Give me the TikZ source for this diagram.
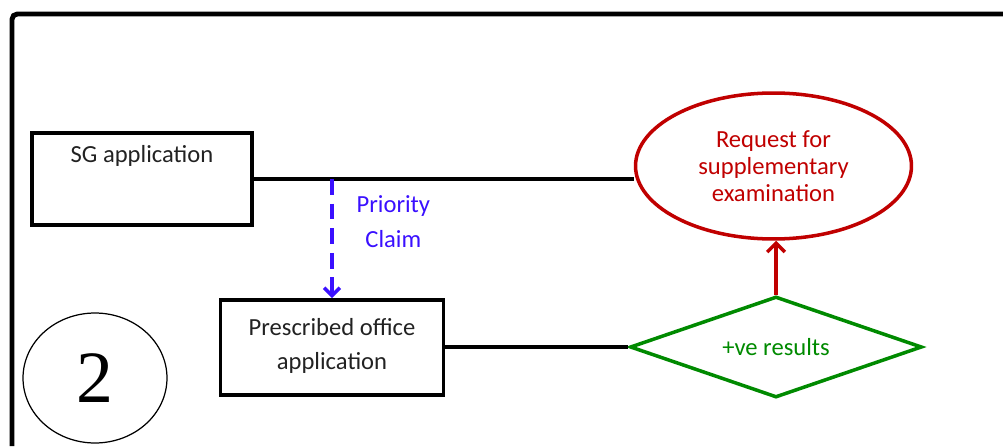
\documentclass[tikz,border=0pt]{standalone}
\usepackage{fontspec}
\setmainfont{Carlito}
\newfontfamily\numfont{Liberation Serif}
\usepackage{tikz}
\usetikzlibrary{shapes.geometric,arrows.meta}
\definecolor{myred}{HTML}{C00000}
\definecolor{mygreen}{HTML}{008A00}
\definecolor{myblue}{HTML}{3A10FF}
\definecolor{mytext}{HTML}{222222}
\tikzstyle{block} = [rectangle, draw, line width=2.2pt, align=center, text=mytext, minimum width = 4.4cm, minimum height=1.84cm]
\tikzstyle{request} = [ellipse, draw=myred, text=myred, line width=2pt, align=center, inner sep=0pt, minimum width=5.52cm, minimum height=2.92cm]
\tikzstyle{check} = [diamond, draw=mygreen, text=mygreen, line width=2pt, aspect=2.9, inner sep=0pt, minimum width=5.84cm, minimum height=2.02cm]
\tikzstyle{line} = [draw, line width=2.8pt]

\begin{document}
\begin{tikzpicture}[x=0.02cm, y=-0.02cm, font=\fontsize{14}{17}\selectfont]
    \useasboundingbox (0,0) rectangle (1003,446);
    % frame
    \draw[line width=2.8pt, rounded corners=3] (12,446) -- (12,14) -- (1003,14);

    % Nodes
    \node [block] (sg) at (142,179) {};
    \node [text=mytext, anchor=base] (sg_label) at ([yshift=-0.62cm]sg.north) {SG application};
    \node [block, minimum width=4.46cm, minimum height=1.9cm, execute at begin node=\setlength{\baselineskip}{19.4pt}] (office) at (332,347.5) {\raisebox{4pt}{Prescribed office}\\\raisebox{4pt}{application}};
    \node [request, execute at begin node=\setlength{\baselineskip}{15.4pt}] (request) at (773.5,166) {Request for\\supplementary\\examination};
    \node [check] (results) at (776,347) {+ve results};
    \node [ellipse, draw, line width=0.7pt, minimum width=2.88cm, minimum height=2.6cm, inner sep=0pt] (stage) at (95,378) {\numfont\fontsize{42}{42}\selectfont 2};

    % arrows
    \path[line] (sg.east) -- (sg.east -| request.west);
    \path[line] (office.east |- results.west) -- (results.west);
    \draw[>={Straight Barb[length=4.5pt, width=9pt]}, ->, myblue, line width=2pt, dash pattern=on 9pt off 5pt] (office.north |- sg.east) to node[pos=0.36, right, xshift=0.34cm, text=myblue, align=center, execute at begin node=\setlength{\baselineskip}{20pt}] {Priority\\Claim} (office.north);
    \draw[>={Straight Barb[length=5pt, width=10pt]}, ->, myred, line width=2pt] (results.north) to (results.north |- request.south);

\end{tikzpicture}
\end{document}
